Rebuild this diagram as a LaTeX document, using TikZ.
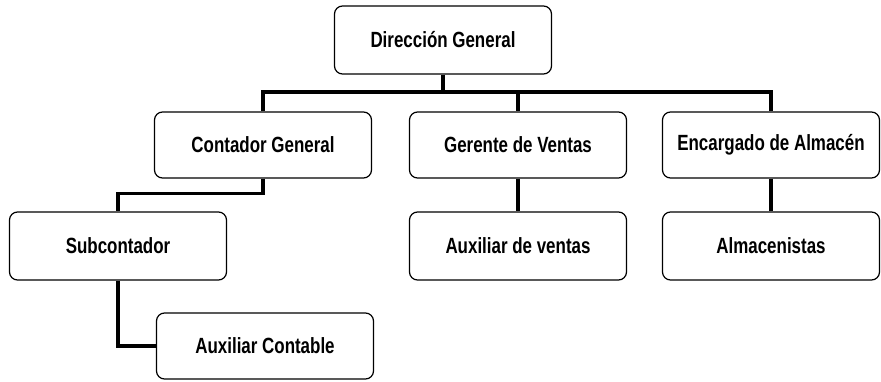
\documentclass[tikz,border=0pt]{standalone}
\usepackage{fontspec}
\setmainfont{Liberation Sans}[FakeStretch=0.77]
\usepackage{tikz}
\usetikzlibrary{calc}

\begin{document}
\begin{tikzpicture}[x=1pt,y=-1pt,
    puesto/.style={draw,line width=1.2pt,rounded corners=8pt,
      minimum width=217pt,minimum height=66pt,inner sep=0pt,
      font=\fontsize{22}{26}\selectfont\bfseries},
    enlace/.style={line width=3.8pt}]
    \useasboundingbox (0,0) rectangle (881,382);
    % nivel superior
    \node[puesto,minimum height=68pt] (DG) at (443, 40) {Dirección General};
    % segundo nivel
    \node[puesto] (CG) at (263,145) {Contador General};
    \node[puesto] (GV) at (518,145) {Gerente de Ventas};
    \node[puesto] (EA) at (771,145) {Encargado de Almacén};
    % tercer nivel
    \node[puesto,minimum height=68pt] (SC) at (118,246) {Subcontador};
    \node[puesto,minimum height=68pt] (AV) at (518,246) {Auxiliar de ventas};
    \node[puesto,minimum height=68pt] (AL) at (771,246) {Almacenistas};
    \node[puesto] (AC) at (265,346) {Auxiliar Contable};
    \coordinate (bus) at (443,92);
    \begin{scope}[enlace]
      \draw (DG.south) -- (bus);
      \draw (CG.north) |- (bus) -| (EA.north);
      \draw (bus) -| (GV.north);
      \draw (GV.south) -- (AV.north);
      \draw (EA.south) -- (AL.north);
      \draw (CG.south) -- ++(0,15) -| (SC.north);
      \draw (SC.south) |- (AC.west);
    \end{scope}
  \end{tikzpicture}
\end{document}
